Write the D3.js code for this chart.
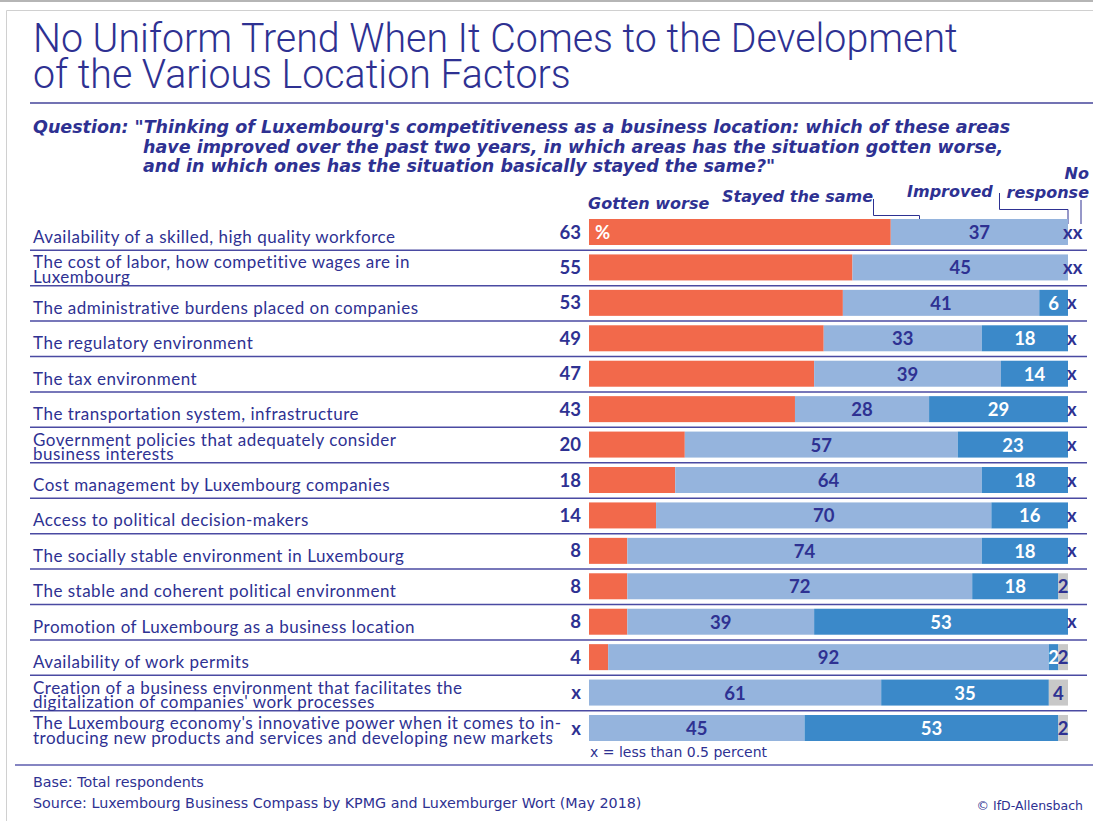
<!DOCTYPE html>
<html>
<head>
<meta charset="utf-8">
<script src="https://cdn.jsdelivr.net/npm/d3@7"></script>
<style>
  html, body { margin: 0; padding: 0; background: #fff; }
  svg { display: block; }
</style>
</head>
<body>
<svg id="chart" width="1093" height="821"></svg>
<script>
// Survey items, one per row (line breaks marked with "\n")
const categories = [
  "Availability of a skilled, high quality workforce",
  "The cost of labor, how competitive wages are in\nLuxembourg",
  "The administrative burdens placed on companies",
  "The regulatory environment",
  "The tax environment",
  "The transportation system, infrastructure",
  "Government policies that adequately consider\nbusiness interests",
  "Cost management by Luxembourg companies",
  "Access to political decision-makers",
  "The socially stable environment in Luxembourg",
  "The stable and coherent political environment",
  "Promotion of Luxembourg as a business location",
  "Availability of work permits",
  "Creation of a business environment that facilitates the\ndigitalization of companies' work processes",
  "The Luxembourg economy's innovative power when it comes to in-\ntroducing new products and services and developing new markets"
];

// Percentages; null = less than 0.5 percent (shown as "x")
const gottenWorse = [63, 55, 53, 49, 47, 43, 20, 18, 14, 8, 8, 8, 4, null, null];
const stayedSame  = [37, 45, 41, 33, 39, 28, 57, 64, 70, 74, 72, 39, 92, 61, 45];
const improved    = [null, null, 6, 18, 14, 29, 23, 18, 16, 18, 18, 53, 2, 35, 53];
const noResponse  = [null, null, null, null, null, null, null, null, null, null, 2, null, 2, 4, 2];

const seriesNames = ["Gotten worse", "Stayed the same", "Improved", "No response"];

const INK = "#2e3192";
const colors = ["#f2694b", "#95b4dd", "#3b89c9", "#c8c8c8"];

const svg = d3.select("#chart");

// Frame
svg.append("line").attr("x1", 0).attr("x2", 1093).attr("y1", 1).attr("y2", 1)
  .attr("stroke", "#b5b5b5").attr("stroke-width", 2);
svg.append("path").attr("d", "M6.5,821 V10.5 H1093")
  .attr("fill", "none").attr("stroke", "#d0d0d0").attr("stroke-width", 1);

// Title: light, condensed headline
const titleG = svg.append("g")
  .attr("font-family", "Roboto, 'Open Sans', sans-serif")
  .attr("font-weight", 300)
  .attr("font-size", 40).attr("fill", INK);
const t1 = titleG.append("text").attr("x", 0).attr("y", 52)
  .text("No Uniform Trend When It Comes to the Development");
titleG.append("text").attr("x", 0).attr("y", 88).text("of the Various Location Factors");
const titleWidth = 925;
const k = titleWidth / t1.node().getComputedTextLength();
titleG.attr("transform", `translate(33,0) scale(${k},1)`);

svg.append("line").attr("x1", 30).attr("x2", 1093).attr("y1", 103).attr("y2", 103)
  .attr("stroke", "#7373b3").attr("stroke-width", 2);

// Question
const q = svg.append("text")
  .attr("font-family", "'DejaVu Sans', sans-serif")
  .attr("font-weight", "bold").attr("font-style", "italic")
  .attr("font-size", 17.5).attr("fill", INK);
q.append("tspan").attr("x", 33).attr("y", 133)
  .text("Question: \"Thinking of Luxembourg's competitiveness as a business location: which of these areas");
q.append("tspan").attr("x", 143).attr("y", 153)
  .text("have improved over the past two years, in which areas has the situation gotten worse,");
q.append("tspan").attr("x", 143).attr("y", 172)
  .text("and in which ones has the situation basically stayed the same?\"");

// Scales
const x = d3.scaleLinear().domain([0, 100]).range([589, 1068]);
const y = d3.scalePoint().domain(d3.range(categories.length)).range([232, 728]);
const step = y.step();
const barH = 26;

// Series headers
const hdr = svg.append("g")
  .attr("font-family", "'DejaVu Sans', sans-serif")
  .attr("font-weight", "bold").attr("font-style", "italic")
  .attr("font-size", 16).attr("fill", INK);
hdr.append("text").attr("x", 588).attr("y", 209).text(seriesNames[0]);
hdr.append("text").attr("x", 722).attr("y", 202).text(seriesNames[1]);
hdr.append("text").attr("x", 907).attr("y", 197).text(seriesNames[2]);
hdr.append("text").attr("x", 1089).attr("y", 179).attr("text-anchor", "end").text("No");
hdr.append("text").attr("x", 1089).attr("y", 198).attr("text-anchor", "end").text("response");

// Leader lines from headers into the first row
const leader = svg.append("g").attr("fill", "none").attr("stroke", INK).attr("stroke-width", 1);
leader.append("path").attr("d", `M873.5,199 V215.5 H${x(gottenWorse[0] + 6)} V231`);
leader.append("path").attr("d", `M999.5,193 V209.5 H${x(100)} V224`);
leader.append("path").attr("d", `M${x(100) + 13},200 V224`);

// Row separators
const sepG = svg.append("g");
d3.range(categories.length - 1).forEach(i => {
  sepG.append("line")
    .attr("x1", 30).attr("x2", 1087)
    .attr("y1", y(i) + step / 2 + 0.5).attr("y2", y(i) + step / 2 + 0.5)
    .attr("stroke", "#4a4aa2").attr("stroke-width", 1.5);
});
svg.append("line").attr("x1", 15).attr("x2", 1093).attr("y1", 765).attr("y2", 765)
  .attr("stroke", "#8585c2").attr("stroke-width", 2);

// Category labels
const labG = svg.append("g")
  .attr("font-family", "Lato, sans-serif").attr("font-size", 17)
  .attr("letter-spacing", 0.5).attr("fill", INK);
categories.forEach((c, i) => {
  const lines = c.split("\n");
  const t = labG.append("text");
  if (lines.length === 1) {
    t.append("tspan").attr("x", 33).attr("y", y(i) + 11).text(lines[0]);
  } else {
    lines.forEach((l, j) => {
      t.append("tspan").attr("x", 33).attr("y", y(i) + 1 + j * 14.5).text(l);
    });
  }
});

// Stacked segments
const rows = categories.map((c, i) => {
  const vals = [gottenWorse[i], stayedSame[i], improved[i], noResponse[i]];
  let acc = 0;
  return vals.map((v, j) => {
    const w = v == null ? 0 : v;
    const seg = { row: i, key: j, value: v, x0: acc, x1: acc + w };
    acc += w;
    return seg;
  });
});
const segs = rows.flat();

svg.append("g").selectAll("rect")
  .data(segs.filter(s => s.value != null && s.value > 0))
  .join("rect")
  .attr("x", s => x(s.x0))
  .attr("y", s => y(s.row) - barH / 2)
  .attr("width", s => x(s.x1) - x(s.x0))
  .attr("height", barH)
  .attr("fill", s => colors[s.key]);

// Value labels
const valG = svg.append("g")
  .attr("font-family", "Lato, sans-serif").attr("font-weight", "bold")
  .attr("font-size", 18.5);

// "Gotten worse" values sit to the left of the bar
valG.selectAll("text.worse")
  .data(rows.map(r => r[0]))
  .join("text").attr("class", "worse")
  .attr("x", x(0) - 8).attr("y", s => y(s.row) + 6.5)
  .attr("text-anchor", "end").attr("fill", INK)
  .text(s => s.value == null ? "x" : s.value);

// Percent sign inside the first bar
valG.append("text")
  .attr("x", x(0) + 6).attr("y", y(0) + 6.5)
  .attr("fill", "#fff").text("%");

// Values inside the stayed / improved / no-response segments
valG.selectAll("text.inner")
  .data(segs.filter(s => s.key > 0 && s.value != null))
  .join("text").attr("class", "inner")
  .attr("x", s => x((s.x0 + s.x1) / 2))
  .attr("y", s => y(s.row) + 7)
  .attr("text-anchor", "middle")
  .attr("fill", s => s.key === 2 ? "#fff" : INK)
  .text(s => s.value);

// "x" markers past the end of the bar for improved / no response under 0.5 percent
valG.selectAll("text.tail")
  .data(rows.map((r, i) => ({ row: i, mark: (r[2].value == null ? "x" : "") + (r[3].value == null ? "x" : "") }))
    .filter(d => d.mark.length))
  .join("text").attr("class", "tail")
  .attr("x", d => x(100) + (d.mark.length === 2 ? -5 : -1))
  .attr("y", d => y(d.row) + 6.5)
  .attr("fill", INK)
  .text(d => d.mark);

// Notes
const note = svg.append("g")
  .attr("font-family", "'DejaVu Sans', sans-serif").attr("font-size", 14.3).attr("fill", INK);
note.append("text").attr("x", 590).attr("y", 757).attr("font-size", 14).text("x = less than 0.5 percent");
note.append("text").attr("x", 33).attr("y", 787).text("Base: Total respondents");
note.append("text").attr("x", 33).attr("y", 808)
  .text("Source: Luxembourg Business Compass by KPMG and Luxemburger Wort (May 2018)");
note.append("text").attr("x", 1083).attr("y", 810).attr("text-anchor", "end")
  .attr("font-size", 12.5).text("© IfD-Allensbach");
</script>
</body>
</html>
